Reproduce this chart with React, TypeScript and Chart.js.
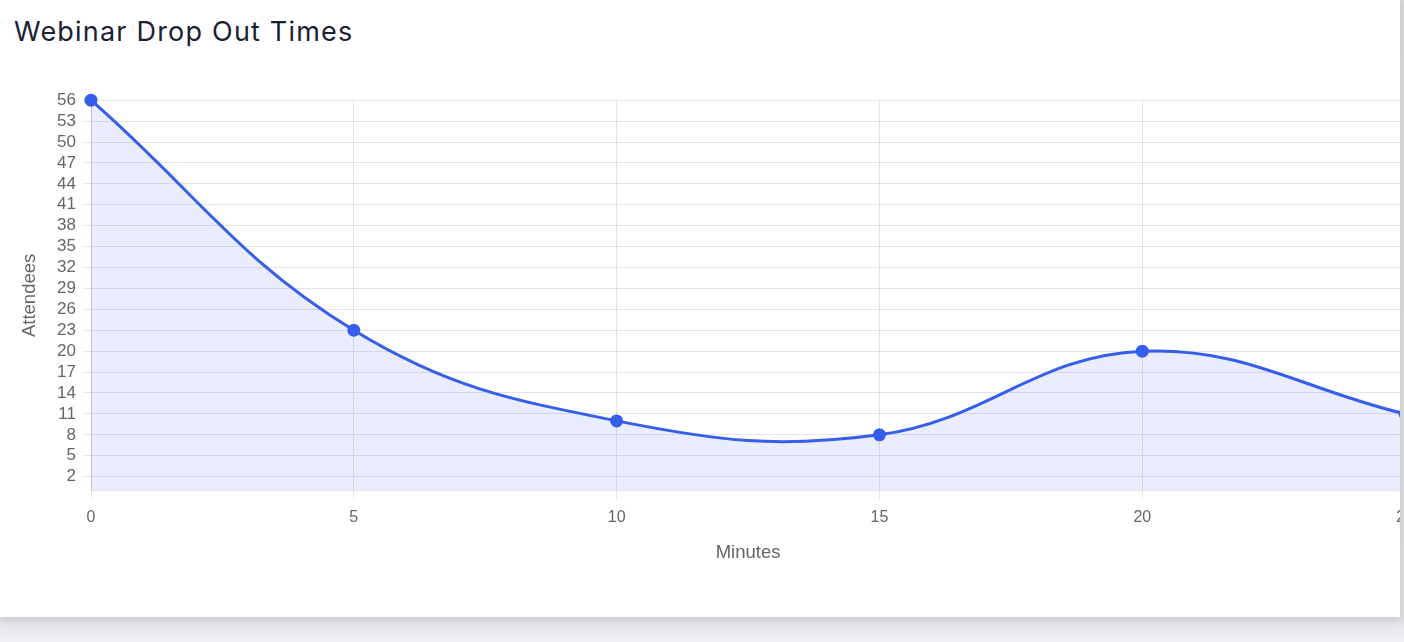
import React, { useEffect, useRef } from "react";
import { Chart, registerables } from "chart.js";

Chart.register(...registerables);

const MINUTES = [0, 5, 10, 15, 20, 25];
const ATTENDEES = [56, 23, 10, 8, 20, 11];
const Y_TICKS = [2, 5, 8, 11, 14, 17, 20, 23, 26, 29, 32, 35, 38, 41, 44, 47, 50, 53, 56];
const X_TICKS = [0, 5, 10, 15, 20, 25];

const LINE = "rgb(54, 94, 234)";
const FILL = "rgba(54, 94, 234, 0.11)";
const FONT = "Liberation Sans, Arial";

export default function App() {
  const ref = useRef<HTMLCanvasElement | null>(null);

  useEffect(() => {
    if (!ref.current) return;
    const chart = new Chart(ref.current, {
      type: "line",
      data: {
        datasets: [
          {
            data: MINUTES.map((m, i) => ({ x: m, y: ATTENDEES[i] })),
            borderColor: LINE,
            backgroundColor: FILL,
            pointBackgroundColor: LINE,
            pointBorderColor: LINE,
            pointRadius: 5,
            borderWidth: 3,
            tension: 0.4,
            fill: "origin",
            clip: false,
          },
        ],
      },
      options: {
        responsive: false,
        animation: false,
        layout: { padding: { left: 16, top: 6, right: 0, bottom: 0 } },
        plugins: { legend: { display: false }, title: { display: false }, tooltip: { enabled: false } },
        scales: {
          x: {
            type: "linear",
            min: 0,
            max: 25,
            afterBuildTicks: (s: any) => {
              s.ticks = X_TICKS.map((v) => ({ value: v }));
            },
            ticks: { color: "#666", font: { family: FONT, size: 16 }, padding: 9, autoSkip: false, maxRotation: 0 },
            grid: { color: "rgba(0,0,0,0.1)" },
            title: {
              display: true,
              text: "Minutes",
              color: "#666",
              font: { family: FONT, size: 18.5 },
              padding: { top: 6, bottom: 4 },
            },
          },
          y: {
            min: 0,
            max: 56,
            afterBuildTicks: (s: any) => {
              s.ticks = Y_TICKS.map((v) => ({ value: v }));
            },
            afterFit: (s: any) => {
              s.width = 75;
            },
            ticks: { color: "#666", font: { family: FONT, size: 17 }, padding: 7, autoSkip: false },
            grid: { color: "rgba(0,0,0,0.1)" },
            title: {
              display: true,
              text: "Attendees",
              color: "#666",
              font: { family: FONT, size: 18.5 },
              padding: 3,
            },
          },
        },
      },
    });
    return () => chart.destroy();
  }, []);

  return (
    <div
      style={{
        position: "fixed",
        left: 0,
        top: 0,
        width: 1404,
        height: 642,
        background: "linear-gradient(#d9dbdf 0px, #dfe1e4 617px, #eef0f3 642px)",
        overflow: "hidden",
      }}
    >
      <div
        style={{
          position: "absolute",
          left: 0,
          top: 0,
          width: 1400,
          height: 617,
          background: "#fff",
          overflow: "hidden",
          boxShadow: "0 2px 8px rgba(0,0,0,0.12)",
        }}
      >
        <div
          style={{
            position: "absolute",
            left: 14,
            top: 14,
            fontFamily: "Inter, 'Open Sans', sans-serif",
            fontSize: 27,
            fontWeight: 400,
            letterSpacing: "1.2px",
            color: "#1b2132",
            lineHeight: "36px",
            whiteSpace: "nowrap",
          }}
        >
          Webinar Drop Out Times
        </div>
        <canvas
          ref={ref}
          width={1423}
          height={485}
          style={{ position: "absolute", left: 0, top: 83, width: 1423, height: 485 }}
        />
      </div>
    </div>
  );
}
